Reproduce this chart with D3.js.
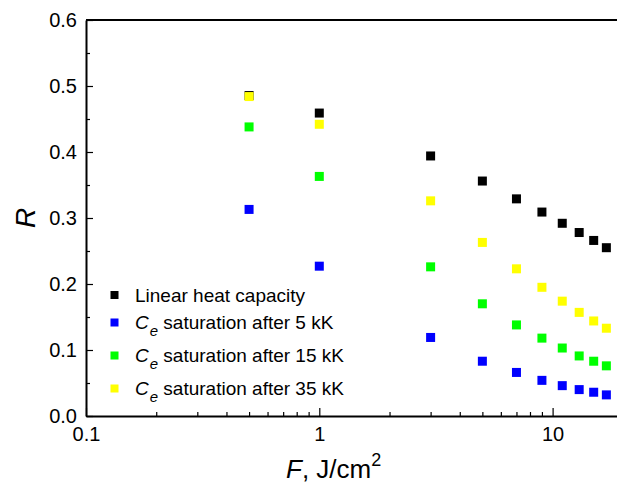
<!DOCTYPE html>
<html><head><meta charset="utf-8">
<script src="https://cdn.jsdelivr.net/npm/d3@7"></script>
<style>
body{margin:0;background:#fff;}
svg{display:block;font-family:"Liberation Sans",Arial,sans-serif;}
</style></head>
<body><svg id="c" width="617" height="483"></svg>
<script>
const F = [0.5, 1, 3, 5, 7, 9, 11, 13, 15, 17];
const linearHC = [0.4855, 0.459, 0.394, 0.356, 0.329, 0.309, 0.292, 0.278, 0.266, 0.255];
const sat5 = [0.313, 0.227, 0.119, 0.083, 0.066, 0.054, 0.046, 0.040, 0.036, 0.032];
const sat15 = [0.438, 0.363, 0.226, 0.170, 0.138, 0.118, 0.103, 0.091, 0.083, 0.076];
const sat35 = [0.484, 0.442, 0.326, 0.263, 0.223, 0.195, 0.174, 0.157, 0.144, 0.133];
const seriesNames = ["Linear heat capacity", "saturation after 5 kK", "saturation after 15 kK", "saturation after 35 kK"];
const seriesColors = ["#000000", "#0000ff", "#00ff00", "#ffff00"];
const xMajor = [0.1, 1, 10];
const xMinor = [0.2,0.3,0.4,0.5,0.6,0.7,0.8,0.9,2,3,4,5,6,7,8,9,20];
const yMajor = [0, 0.1, 0.2, 0.3, 0.4, 0.5, 0.6];
const yMinor = [0.05, 0.15, 0.25, 0.35, 0.45, 0.55];

const svg = d3.select("#c");
const x0 = 86, yTop = 20, yBot = 416, dec = 233.3;
const x = d3.scaleLog().domain([0.1, 20]).range([x0, x0 + dec * Math.log10(200)]);
const y = d3.scaleLinear().domain([0, 0.6]).range([yBot, yTop]);

// top frame line
svg.append("line").attr("x1", x0).attr("x2", 630).attr("y1", yTop).attr("y2", yTop)
  .attr("stroke", "#000").attr("stroke-width", 2);

// x axis
const gxMinor = svg.append("g").attr("transform", `translate(0,${yBot})`)
  .call(d3.axisBottom(x).tickValues(xMinor).tickSize(-4).tickFormat(""));
const gx = svg.append("g").attr("transform", `translate(0,${yBot})`)
  .call(d3.axisBottom(x).tickValues(xMajor).tickSizeInner(-8).tickSizeOuter(0).tickPadding(12)
    .tickFormat(d => d === 0.1 ? "0.1" : String(d)));
gxMinor.select(".domain").remove();
gx.select(".domain").attr("stroke-width", 2);
[gx, gxMinor].forEach(g => g.selectAll(".tick line").attr("stroke-width", 1.2));
gx.selectAll("text").attr("font-size", 20).attr("fill", "#000").attr("dy", "0.71em")
  .attr("y", 11).style("font-family", "Liberation Sans, Arial, sans-serif");

// y axis
const gyMinor = svg.append("g").attr("transform", `translate(${x0},0)`)
  .call(d3.axisLeft(y).tickValues(yMinor).tickSize(-4).tickFormat(""));
const gy = svg.append("g").attr("transform", `translate(${x0},0)`)
  .call(d3.axisLeft(y).tickValues(yMajor).tickSizeInner(-7).tickSizeOuter(0).tickPadding(9)
    .tickFormat(d3.format(".1f")));
gyMinor.select(".domain").remove();
gy.select(".domain").attr("stroke-width", 2);
[gy, gyMinor].forEach(g => g.selectAll(".tick line").attr("stroke-width", 1.2));
gy.selectAll("text").attr("font-size", 20).attr("fill", "#000").attr("x", -9)
  .style("font-family", "Liberation Sans, Arial, sans-serif");

// data points
const allSeries = [linearHC, sat5, sat15, sat35];
const sq = 9;
allSeries.forEach((vals, i) => {
  svg.append("g").selectAll("rect").data(vals).join("rect")
    .attr("x", (d, j) => x(F[j]) - sq / 2)
    .attr("y", d => y(d) - sq / 2)
    .attr("width", sq).attr("height", sq)
    .attr("fill", seriesColors[i]);
});

// legend
const legRows = [295, 322.5, 355.5, 388.5];
const lsq = 8;
const leg = svg.append("g");
seriesNames.forEach((name, i) => {
  leg.append("rect").attr("x", 114.5 - lsq / 2).attr("y", legRows[i] - lsq / 2)
    .attr("width", lsq).attr("height", lsq).attr("fill", seriesColors[i]);
  const t = leg.append("text").attr("x", 135).attr("y", legRows[i] + 6.5)
    .attr("font-size", 19).attr("fill", "#000");
  if (i === 0) {
    t.text(name);
  } else {
    t.append("tspan").attr("font-style", "italic").text("C");
    t.append("tspan").attr("font-style", "italic").attr("font-size", 15).attr("dy", 7).attr("dx", 1).text("e");
    t.append("tspan").attr("dy", -7).text("\u00a0" + name);
  }
});

// axis titles
const xt = svg.append("text").attr("x", 286).attr("y", 478).attr("font-size", 26).attr("fill", "#000");
xt.append("tspan").attr("font-style", "italic").text("F");
xt.append("tspan").text(", J/cm");
xt.append("tspan").attr("font-size", 18).attr("dy", -12).text("2");

svg.append("text").attr("transform", "translate(35,218) rotate(-90)")
  .attr("text-anchor", "middle").attr("font-size", 28).attr("font-style", "italic")
  .attr("fill", "#000").text("R");
</script></body></html>
